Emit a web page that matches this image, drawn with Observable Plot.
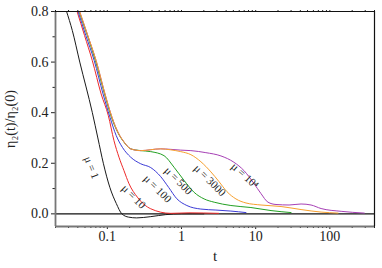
<!DOCTYPE html>
<html>
<head>
<meta charset="utf-8">
<script src="https://cdn.jsdelivr.net/npm/d3@7"></script>
<script src="https://cdn.jsdelivr.net/npm/@observablehq/plot@0.6"></script>
<style>
  html, body { margin: 0; padding: 0; background: #fff; }
  svg { display: block; }
  svg, svg text { font-family: "Liberation Serif", "DejaVu Serif", serif !important; }
</style>
</head>
<body>
<div id="chart"></div>
<script>
// μ = 1
const tMu1 = [0.0282, 0.0337, 0.0425, 0.0628, 0.0745, 0.0883, 0.108, 0.132, 0.157, 0.194, 0.249, 0.385, 0.614, 1.0, 2.0];
const vMu1 = [0.80, 0.725, 0.60, 0.40, 0.30, 0.20, 0.105, 0.041, 0.0, -0.013, -0.016, -0.011, -0.003, 0, 0];
// μ = 10
const tMu10 = [0.0391, 0.0493, 0.0627, 0.0825, 0.103, 0.1227, 0.1435, 0.1675, 0.196, 0.254, 0.385, 0.716, 1.26, 3.16];
const vMu10 = [0.80, 0.705, 0.606, 0.474, 0.389, 0.29, 0.224, 0.171, 0.119, 0.066, 0.020, 0.002, 0.004, 0.002];
// μ = 100
const tMu100 = [0.0403, 0.0513, 0.0665, 0.0875, 0.1085, 0.1315, 0.1596, 0.2065, 0.2818, 0.3846, 0.5248, 0.673, 0.863, 1.18, 1.82, 2.91, 4.63, 7.40];
const vMu100 = [0.80, 0.705, 0.606, 0.474, 0.382, 0.31, 0.263, 0.224, 0.198, 0.183, 0.147, 0.104, 0.060, 0.033, 0.019, 0.015, 0.011, 0.005];
// μ = 500
const tMu500 = [0.0416, 0.0537, 0.069, 0.0915, 0.1135, 0.1375, 0.168, 0.2065, 0.2818, 0.3846, 0.582, 0.794, 1.084, 1.479, 2.018, 2.76, 4.63, 8.63, 16.1, 30.0];
const vMu500 = [0.80, 0.705, 0.606, 0.474, 0.382, 0.323, 0.283, 0.257, 0.250, 0.246, 0.23, 0.184, 0.132, 0.085, 0.059, 0.046, 0.033, 0.025, 0.013, 0.005];
// μ = 3000
const tMu3000 = [0.0423, 0.0545, 0.0705, 0.093, 0.1155, 0.139, 0.169, 0.2065, 0.2818, 0.5248, 0.716, 0.977, 1.337, 1.824, 2.489, 3.19, 4.09, 5.42, 7.40, 11.8, 22.0, 40.9, 76.2, 129];
const vMu3000 = [0.80, 0.705, 0.606, 0.474, 0.382, 0.323, 0.283, 0.257, 0.250, 0.257, 0.253, 0.246, 0.234, 0.206, 0.166, 0.128, 0.088, 0.059, 0.043, 0.035, 0.029, 0.017, 0.007, 0.003];
// μ = 10^4
const tMu1e4 = [0.0423, 0.0545, 0.0705, 0.093, 0.1155, 0.139, 0.169, 0.2065, 0.2818, 0.5248, 0.716, 0.977, 1.337, 2.128, 3.40, 5.09, 6.95, 9.48, 11.8, 14.66, 18.8, 28.2, 40.9, 55.8, 76.2, 142, 291];
const vMu1e4 = [0.80, 0.705, 0.606, 0.474, 0.382, 0.323, 0.283, 0.257, 0.250, 0.257, 0.255, 0.252, 0.25, 0.242, 0.229, 0.204, 0.171, 0.12, 0.080, 0.046, 0.037, 0.035, 0.039, 0.035, 0.021, 0.010, 0.003];

const seriesNames = ["μ = 1", "μ = 10", "μ = 100", "μ = 500", "μ = 10⁴", "μ = 3000"];
const seriesT = [tMu1, tMu10, tMu100, tMu500, tMu1e4, tMu3000];
const seriesV = [vMu1, vMu10, vMu100, vMu500, vMu1e4, vMu3000];
const seriesColors = ["#1a1a1a", "#ee2a2a", "#3b3bd6", "#22a022", "#a63fb5", "#f7a02e"];

// curve labels
const labelText = ["μ = 1", "μ = 10", "μ = 100", "μ = 500", "μ = 3000", "μ = 10⁴"];
const labelT = [0.0614, 0.2265, 0.474, 0.906, 2.41, 7.17];
const labelV = [0.183, 0.068, 0.099, 0.131, 0.132, 0.151];
const labelAngle = [68, 45, 45, 45, 45, 42];

// ticks
const xMajor = [0.1, 1, 10, 100];
const xMajorLabels = ["0.1", "1", "10", "100"];
const xMinor = [0.02,0.03,0.04,0.05,0.06,0.07,0.08,0.09,0.2,0.3,0.4,0.5,0.6,0.7,0.8,0.9,2,3,4,5,6,7,8,9,20,30,40,50,60,70,80,90,200,300,400];
const yMajor = [0, 0.2, 0.4, 0.6, 0.8];
const yMinor = [0.1, 0.3, 0.5, 0.7];

const rows = [];
seriesNames.forEach((name, i) => {
  seriesT[i].forEach((t, j) => rows.push({name, t, v: seriesV[i][j]}));
});
const labels = labelText.map((text, i) => ({text, t: labelT[i], v: labelV[i], a: labelAngle[i]}));

const fontFamily = "Liberation Serif";

const chart = Plot.plot({
  width: 382,
  height: 268,
  marginLeft: 55,
  marginRight: 8,
  marginTop: 11,
  marginBottom: 42,
  style: {fontFamily, fontSize: "14px", color: "#222", background: "#fff"},
  x: {type: "log", domain: [0.02, 400]},
  y: {domain: [-0.05, 0.8]},
  color: {domain: seriesNames, range: seriesColors},
  marks: [
    Plot.ruleY([0], {stroke: "#111", strokeWidth: 1.2}),
    Plot.line(rows, {x: "t", y: "v", z: "name", stroke: "name", strokeWidth: 1, curve: "monotone-x", clip: true}),
    Plot.axisY({ticks: yMajor, tickFormat: d3.format(".1f"), tickSize: 4, tickPadding: 3, label: null, fontSize: 14}),
    Plot.axisY({ticks: yMinor, text: null, tickSize: 2.5, label: null}),
    Plot.axisX({ticks: xMajor, tickFormat: d => xMajorLabels[xMajor.indexOf(d)], tickSize: 3, tickPadding: 2, label: null, fontSize: 14}),
    Plot.axisX({ticks: xMinor, text: null, tickSize: 2, label: null}),
    Plot.axisX({anchor: "top", ticks: xMajor.concat(xMinor), text: null, tickSize: 2, label: null}),
    Plot.ruleX([0.02], {stroke: "#777", strokeWidth: 1.8}),
    Plot.ruleY([-0.05], {stroke: "#777", strokeWidth: 1.8}),
    Plot.ruleY([0.8], {stroke: "#111", strokeWidth: 1.2}),
    Plot.ruleX([400], {stroke: "#111", strokeWidth: 1.2}),
    Plot.text(labels, {x: "t", y: "v", text: "text", rotate: "a", fontSize: 11, fill: "#222"}),
    Plot.text(["t"], {frameAnchor: "bottom", dy: 34, fontSize: 15}),
    Plot.text(["η₂(t)/η₂(0)"], {frameAnchor: "left", textAnchor: "middle", dx: -45, dy: 0, rotate: -90, fontSize: 14})
  ]
});
document.getElementById("chart").appendChild(chart);
</script>
</body>
</html>
